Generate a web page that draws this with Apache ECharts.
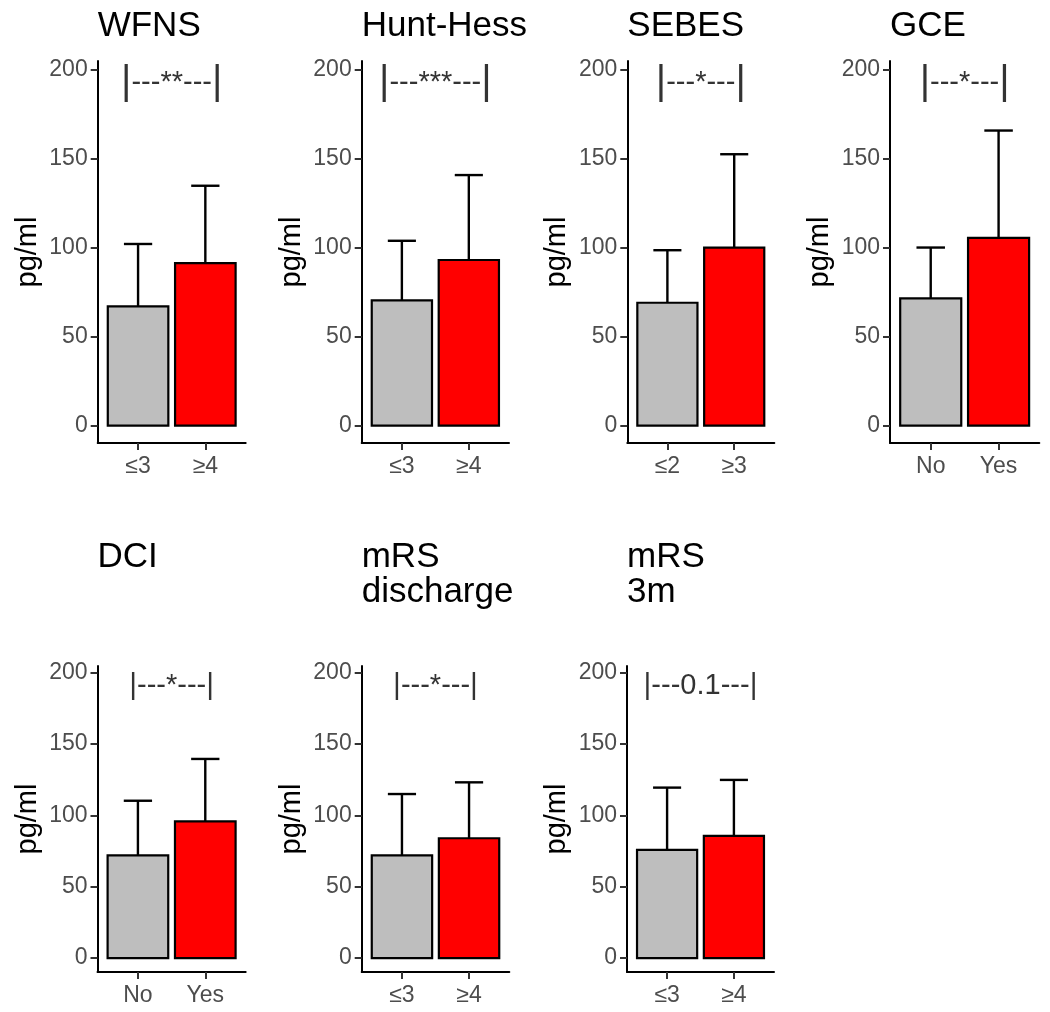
<!DOCTYPE html>
<html><head><meta charset="utf-8">
<script src="https://cdn.jsdelivr.net/npm/echarts@6/dist/echarts.min.js"></script>
<style>html,body{margin:0;padding:0;background:#fff}#c{width:1050px;height:1012px}</style>
</head><body><div id="c"></div>
<script>
// ---- data ----
const titles = ['WFNS', 'Hunt-Hess', 'SEBES', 'GCE', 'DCI', 'mRS\ndischarge', 'mRS\n3m'];
const categories = [['≤3', '≥4'], ['≤3', '≥4'], ['≤2', '≥3'], ['No', 'Yes'], ['No', 'Yes'], ['≤3', '≥4'], ['≤3', '≥4']];
const means = [[67, 91.3], [70.3, 93], [69, 100], [71.5, 105.4], [72, 95.8], [72, 84], [75.8, 85.7]];
const upperErr = [[102, 134.7], [103.8, 140.7], [98.5, 152.4], [100, 165.7], [110.3, 139.6], [115, 123.2], [119.5, 124.9]];
const sigLabels = ['**', '***', '*', '*', '*', '*', '0.1'];
const yTicks = [0, 50, 100, 150, 200];
const annotY = [192.5, 192.5, 192.5, 192.5, 191, 191, 191];
const yLabel = 'pg/ml';

// ---- layout ----
const FONT = '"Liberation Sans", Arial, sans-serif';
const panelLeft = [97.7, 361.7, 627.3, 890, 97.5, 361.7, 627];
const panelWidth = [148, 147.3, 147, 149.3, 148.2, 147.6, 147];
const panelTop = [61, 61, 61, 61, 666, 666, 666];
const panelHeight = [382, 382, 382, 382, 306, 306, 306];
const titleTop = [9, 9, 9, 9, 539.5, 539.5, 539.5];
const pipeSize = [40, 40, 40, 40, 30, 30, 30];
const barColors = ['#BEBEBE', '#FF0000'];

const chart = echarts.init(document.getElementById('c'), null, {renderer: 'canvas'});

function renderBar(params, api) {
  const x = api.value(0), m = api.value(1), u = api.value(2);
  const p0 = api.coord([x - 0.45, 0]);
  const p1 = api.coord([x + 0.45, m]);
  const top = api.coord([x, m]);
  const up = api.coord([x, u]);
  const cl = api.coord([x - 0.21, u]);
  const cr = api.coord([x + 0.21, u]);
  return {
    type: 'group',
    children: [
      {type: 'line', shape: {x1: top[0], y1: top[1], x2: up[0], y2: up[1]}, style: {stroke: '#000', lineWidth: 2.4}},
      {type: 'line', shape: {x1: cl[0], y1: cl[1], x2: cr[0], y2: cr[1]}, style: {stroke: '#000', lineWidth: 2.4}},
      {type: 'rect', shape: {x: p0[0], y: p1[1], width: p1[0] - p0[0], height: p0[1] - p1[1]},
       style: {fill: barColors[params.dataIndex], stroke: '#000', lineWidth: 2.2}}
    ]
  };
}

const grid = [], xAxis = [], yAxis = [], series = [], title = [];
titles.forEach((t, i) => {
  grid.push({left: panelLeft[i], top: panelTop[i], width: panelWidth[i], height: panelHeight[i], containLabel: false});
  title.push({text: t, left: panelLeft[i], top: titleTop[i], padding: 0,
    textStyle: {fontSize: 35, fontWeight: 'normal', color: '#000', fontFamily: FONT, lineHeight: 35}});
  const cats = categories[i];
  xAxis.push({
    type: 'value', gridIndex: i, min: 0.4, max: 2.6,
    splitLine: {show: false},
    axisLine: {show: true, onZero: false, lineStyle: {color: '#000', width: 2}},
    axisTick: {show: true, customValues: [1, 2], length: 7, lineStyle: {color: '#333', width: 2}},
    axisLabel: {show: true, customValues: [1, 2], formatter: v => cats[Math.round(v) - 1],
      color: '#4d4d4d', fontSize: 23, margin: 12, fontFamily: FONT}
  });
  yAxis.push({
    type: 'value', gridIndex: i, min: -9.75, max: 204.75,
    splitLine: {show: false},
    axisLine: {show: true, onZero: false, lineStyle: {color: '#000', width: 2}},
    axisTick: {show: true, customValues: yTicks, length: 7, lineStyle: {color: '#333', width: 2}},
    axisLabel: {show: true, customValues: yTicks, color: '#4d4d4d', fontSize: 23, margin: 10, fontFamily: FONT},
    name: yLabel, nameLocation: 'middle', nameGap: 70,
    nameTextStyle: {fontSize: 29, color: '#000', fontFamily: FONT, verticalAlign: 'middle'}
  });
  series.push({
    type: 'custom', xAxisIndex: i, yAxisIndex: i, renderItem: renderBar, clip: false,
    data: means[i].map((m, k) => [k + 1, m, upperErr[i][k]])
  });
  series.push({
    type: 'scatter', xAxisIndex: i, yAxisIndex: i, symbolSize: 0, silent: true,
    data: [[1.5, annotY[i]]],
    label: {show: true, position: 'inside',
      formatter: '{p||}{t|---' + sigLabels[i] + '---}{p||}',
      rich: {
        p: {fontSize: pipeSize[i], color: '#000', fontFamily: FONT, verticalAlign: 'middle'},
        t: {fontSize: 29, color: '#000', fontFamily: FONT, verticalAlign: 'middle'}
      }}
  });
});

chart.setOption({backgroundColor: '#fff', animation: false, title, grid, xAxis, yAxis, series});
</script></body></html>
